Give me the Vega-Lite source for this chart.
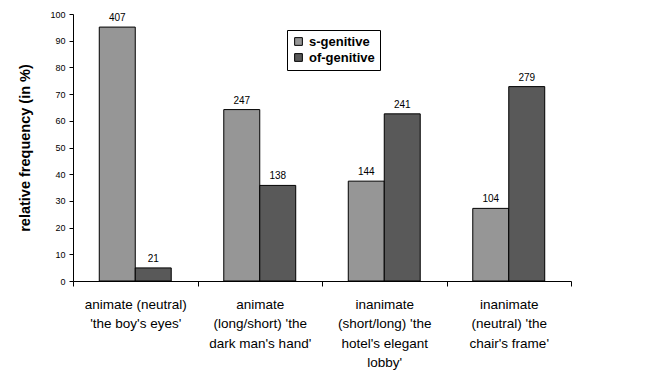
{
  "$schema": "https://vega.github.io/schema/vega-lite/v6.json",
  "width": 498,
  "height": 267,
  "autosize": "none",
  "padding": {"left": 73, "top": 14, "right": 74, "bottom": 96},
  "background": "white",
  "config": {"view": {"stroke": null}, "font": "Liberation Sans"},
  "data": {"values": [
    {"category": "animate (neutral)|'the boy's eyes'", "genitive": "s-genitive", "percent": 95.1, "count": 407},
    {"category": "animate (neutral)|'the boy's eyes'", "genitive": "of-genitive", "percent": 4.9, "count": 21},
    {"category": "animate|(long/short) 'the|dark man's hand'", "genitive": "s-genitive", "percent": 64.2, "count": 247},
    {"category": "animate|(long/short) 'the|dark man's hand'", "genitive": "of-genitive", "percent": 35.8, "count": 138},
    {"category": "inanimate|(short/long) 'the|hotel's elegant|lobby'", "genitive": "s-genitive", "percent": 37.4, "count": 144},
    {"category": "inanimate|(short/long) 'the|hotel's elegant|lobby'", "genitive": "of-genitive", "percent": 62.6, "count": 241},
    {"category": "inanimate|(neutral) 'the|chair's frame'", "genitive": "s-genitive", "percent": 27.2, "count": 104},
    {"category": "inanimate|(neutral) 'the|chair's frame'", "genitive": "of-genitive", "percent": 72.8, "count": 279}
  ]},
  "encoding": {
    "x": {
      "field": "category", "type": "nominal", "sort": null,
      "scale": {"paddingInner": 0, "paddingOuter": 0},
      "axis": {
        "title": null, "labelAngle": 0, "tickBand": "extent",
        "labelExpr": "split(datum.label, '|')",
        "labelFontSize": 13.5, "labelColor": "black", "labelLineHeight": 19.5,
        "labelPadding": 11, "labelBaseline": "top",
        "domainColor": "black", "tickColor": "black", "tickSize": 5
      }
    },
    "xOffset": {
      "field": "genitive", "type": "nominal", "sort": ["s-genitive", "of-genitive"],
      "scale": {"paddingOuter": 0.73, "paddingInner": 0}
    },
    "y": {
      "field": "percent", "type": "quantitative",
      "scale": {"domain": [0, 100]},
      "axis": {
        "title": "relative frequency (in %)", "titleFontSize": 14.5, "titleFontWeight": "bold",
        "titleColor": "black", "titlePadding": 17,
        "values": [0, 10, 20, 30, 40, 50, 60, 70, 80, 90, 100],
        "labelFontSize": 9, "labelColor": "black", "grid": false,
        "domainColor": "black", "tickColor": "black", "tickSize": 4, "labelPadding": 4
      }
    }
  },
  "layer": [
    {
      "mark": {"type": "bar", "stroke": "black", "strokeWidth": 1},
      "encoding": {
        "color": {
          "field": "genitive", "type": "nominal",
          "scale": {"domain": ["s-genitive", "of-genitive"], "range": ["#969696", "#595959"]},
          "legend": {
            "title": null, "orient": "none", "legendX": 214, "legendY": 16,
            "strokeColor": "black", "padding": 5, "fillColor": "white",
            "symbolType": "square", "symbolSize": 60, "symbolStrokeColor": "black", "symbolStrokeWidth": 1,
            "labelFontSize": 13, "labelFontWeight": "bold", "labelColor": "black",
            "rowPadding": 2, "labelOffset": 4
          }
        }
      }
    },
    {
      "mark": {"type": "text", "dy": -9, "fontSize": 10, "color": "black"},
      "encoding": {"text": {"field": "count", "type": "quantitative"}}
    }
  ]
}
